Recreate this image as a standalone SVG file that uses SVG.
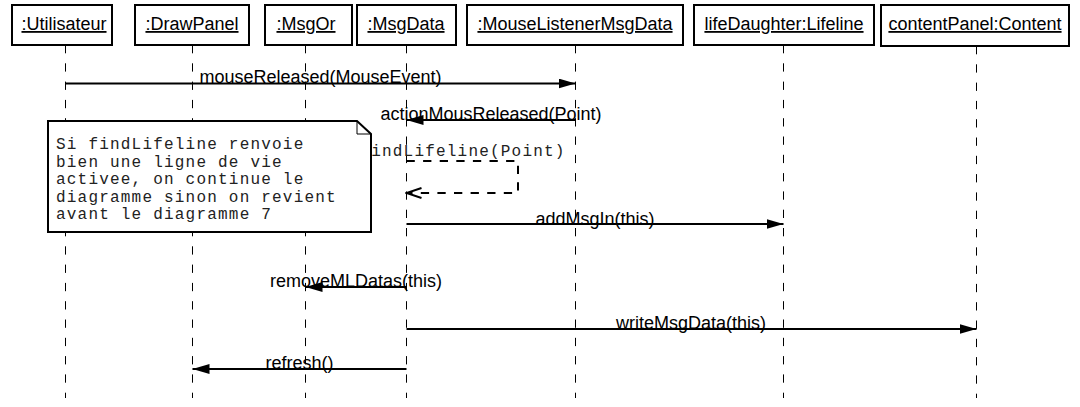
<svg xmlns="http://www.w3.org/2000/svg" width="1080" height="407" viewBox="0 0 1080 407">
<style>
.box{fill:#fff;stroke:#000;stroke-width:2}
.hd{font-family:"Liberation Sans",Arial,sans-serif;font-size:18px;text-anchor:middle;text-decoration:underline;fill:#000}
.life{stroke:#000;stroke-width:1;stroke-dasharray:8.3,10;fill:none}
.msg{stroke:#000;stroke-width:2;fill:none;marker-end:url(#filled)}
.ret{stroke:#000;stroke-width:2;fill:none;stroke-dasharray:8.3,8.3;marker-end:url(#open)}
.lbl{font-family:"Liberation Sans",Arial,sans-serif;font-size:18px;text-anchor:middle;fill:#000}
.mono{font-family:"Liberation Mono","Courier New",monospace;font-size:16px;letter-spacing:1.2px;fill:#222}
.note{fill:#fff;stroke:#000;stroke-width:2}
</style>
<defs>
<marker id="filled" markerUnits="userSpaceOnUse" markerWidth="18" markerHeight="12" refX="17" refY="5" orient="auto">
<path d="M0,0 L17,5 L0,10 z" fill="#000"/>
</marker>
<marker id="open" markerUnits="userSpaceOnUse" markerWidth="18" markerHeight="14" refX="16" refY="6" orient="auto">
<path d="M1,1 L16,6 L1,11" fill="none" stroke="#000" stroke-width="2"/>
</marker>
</defs>
<rect width="1080" height="407" fill="#fff"/>
<g id="utilisateur">
<rect class="box" x="12" y="5" width="100" height="40"/>
<text class="hd" x="64" y="30">:Utilisateur</text>
<line class="life" x1="65.5" y1="45" x2="65.5" y2="398"/>
</g>
<g id="drawpanel">
<rect class="box" x="135" y="5" width="114" height="40"/>
<text class="hd" x="192" y="30">:DrawPanel</text>
<line class="life" x1="192.5" y1="45" x2="192.5" y2="398"/>
</g>
<g id="msgor">
<rect class="box" x="265" y="5" width="87" height="40"/>
<text class="hd" x="306" y="30">:MsgOr</text>
<line class="life" x1="305.5" y1="45" x2="305.5" y2="398"/>
</g>
<g id="msgdata">
<rect class="box" x="357" y="5" width="99" height="40"/>
<text class="hd" x="406" y="30">:MsgData</text>
<line class="life" x1="406.5" y1="45" x2="406.5" y2="398"/>
</g>
<g id="mouselistener">
<rect class="box" x="467" y="5" width="216" height="40"/>
<text class="hd" x="575" y="30">:MouseListenerMsgData</text>
<line class="life" x1="575.5" y1="45" x2="575.5" y2="398"/>
</g>
<g id="lifedaughter">
<rect class="box" x="694" y="5" width="180" height="40"/>
<text class="hd" x="784" y="30">lifeDaughter:Lifeline</text>
<line class="life" x1="783.5" y1="45" x2="783.5" y2="398"/>
</g>
<g id="contentpanel">
<rect class="box" x="881" y="5" width="188" height="41"/>
<text class="hd" x="975" y="30">contentPanel:Content</text>
<line class="life" x1="976.5" y1="46" x2="976.5" y2="398"/>
</g>
<g id="connectors">
<line class="msg" x1="65.5" y1="83.5" x2="575.5" y2="83.5"/>
<text class="lbl" x="320.5" y="83">mouseReleased(MouseEvent)</text>
<line class="msg" x1="575.5" y1="120" x2="406.5" y2="120"/>
<text class="lbl" x="491" y="120">actionMousReleased(Point)</text>
<polyline class="ret" points="406.5,161 518,161 518,193 406.5,193"/>
<text class="mono" x="463" y="156" text-anchor="middle">findLifeline(Point)</text>
<line class="msg" x1="406.5" y1="224" x2="783.5" y2="224"/>
<text class="lbl" x="595" y="225">addMsgIn(this)</text>
<line class="msg" x1="406.5" y1="287" x2="305.5" y2="287"/>
<text class="lbl" x="356" y="287">removeMLDatas(this)</text>
<line class="msg" x1="406.5" y1="329" x2="976.5" y2="329"/>
<text class="lbl" x="691" y="329">writeMsgData(this)</text>
<line class="msg" x1="406.5" y1="369" x2="192.5" y2="369"/>
<text class="lbl" x="299.5" y="369">refresh()</text>
</g>
<g id="note">
<path class="note" d="M48,121 L357,121 L371,134 L371,232 L48,232 Z"/>
<path d="M357,121 L357,134 L371,134" fill="none" stroke="#000" stroke-width="1"/>
<text class="mono" x="56" y="149">Si findLifeline renvoie</text>
<text class="mono" x="56" y="166.5">bien une ligne de vie</text>
<text class="mono" x="56" y="184">activee, on continue le</text>
<text class="mono" x="56" y="201.5">diagramme sinon on revient</text>
<text class="mono" x="56" y="219">avant le diagramme 7</text>
</g>
</svg>
